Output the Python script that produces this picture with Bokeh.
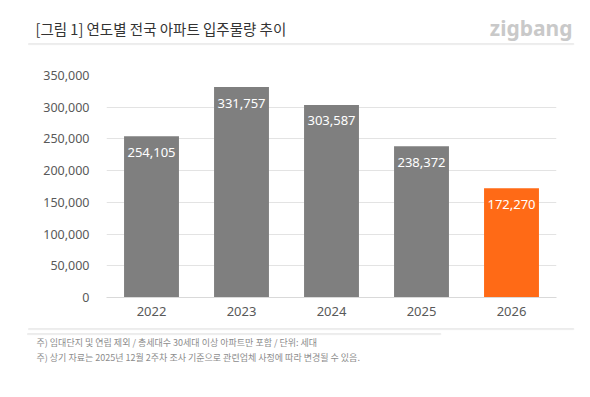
from bokeh.plotting import figure
from bokeh.models import Label, NumeralTickFormatter, Range1d
from bokeh.core.properties import value
from bokeh.embed import file_html
from bokeh.resources import INLINE

years = ["2022", "2023", "2024", "2025", "2026"]
supply = [254105, 331757, 303587, 238372, 172270]
bar_colors = ["#7f7f7f", "#7f7f7f", "#7f7f7f", "#7f7f7f", "#ff6a16"]
labels = [f"{v:,}" for v in supply]
title_text = "[그림 1] 연도별 전국 아파트 입주물량 추이"
notes = ["주) 임대단지 및 연립 제외 / 총세대수 30세대 이상 아파트만 포함 / 단위: 세대",
         "주) 상기 자료는 2025년 12월 2주차 조사 기준으로 관련업체 사정에 따라 변경될 수 있음."]

KR = "Noto Sans CJK KR"
W, H = 588, 395
FL, FR, FT, FB = 106, 556, 75, 297

p = figure(x_range=years, y_range=Range1d(0, 350000), width=W, height=H,
           output_backend="svg", toolbar_location=None,
           min_border_left=FL, min_border_right=W - FR, min_border_top=FT,
           min_border_bottom=H - FB)
p.outline_line_color = None

p.vbar(x=years, top=supply, width=0.61, color=bar_colors, line_color=None)
p.text(x=years, y=supply, text=labels, text_color="white", text_align="center",
       text_baseline="middle", y_offset=16, text_font_size="13px",
       text_font=value("Noto Sans"))

p.yaxis.formatter = NumeralTickFormatter(format="0,0")
p.yaxis.axis_line_color = None
p.yaxis.major_tick_line_color = None
p.yaxis.major_tick_out = 0
p.yaxis.minor_tick_line_color = None
p.yaxis.major_label_standoff = 13
p.yaxis.major_label_text_font = "Noto Sans"
p.yaxis.major_label_text_font_size = "12.5px"
p.yaxis.major_label_text_color = "#595959"
p.yaxis.ticker.desired_num_ticks = 8

p.xaxis.axis_line_color = "#d9d9d9"
p.xaxis.major_tick_line_color = None
p.xaxis.major_tick_out = 0
p.xaxis.major_label_standoff = 9
p.xaxis.major_label_text_font = "Noto Sans"
p.xaxis.major_label_text_font_size = "13px"
p.xaxis.major_label_text_color = "#595959"

p.xgrid.grid_line_color = None
p.ygrid.grid_line_color = "#e3e3e3"

def hline(x, y, w, color="#ececec"):
    # a flat empty label whose border draws a thin horizontal rule
    return Label(x=x, y=y, x_units="screen", y_units="screen", text=" ",
                 text_font_size="1px", text_align="left", text_baseline="top",
                 padding={"left": 0, "right": w, "top": 0, "bottom": 0},
                 border_line_color=color, border_line_width=1,
                 background_fill_color=None)

# above panel (stacked outward from the frame): title, logo, box top rule
p.add_layout(Label(x=35 - FL, y=FT - 28, x_units="screen", y_units="screen",
                   text=title_text, text_font=KR, text_font_size="14.5px",
                   text_color="#333333", text_baseline="middle"), "above")
p.add_layout(Label(x=572 - FL, y=(FT - 20) - 28, x_units="screen", y_units="screen",
                   text="zigbang", text_font="Noto Sans", text_font_size="21px",
                   text_font_style="bold", text_color="#c9c9c9",
                   text_baseline="middle", text_align="right"), "above")
p.add_layout(hline(28 - FL, -17, 545), "above")

# below panel: notes, then box rules
AX = 322
p.add_layout(Label(x=36 - FL, y=(AX + 13) - 346, x_units="screen", y_units="screen",
                   text=notes[0], text_font=KR, text_font_size="9px",
                   text_color="#8c8c8c", text_baseline="middle"), "below")
p.add_layout(Label(x=36 - FL, y=(AX + 26) - 361, x_units="screen", y_units="screen",
                   text=notes[1], text_font=KR, text_font_size="9px",
                   text_color="#8c8c8c", text_baseline="middle"), "below")
p.add_layout(hline(28 - FL, 17, 545), "below")
p.add_layout(hline(27 - FL, 13, 413), "below")

open("out.html", "w").write(file_html(p, INLINE))
